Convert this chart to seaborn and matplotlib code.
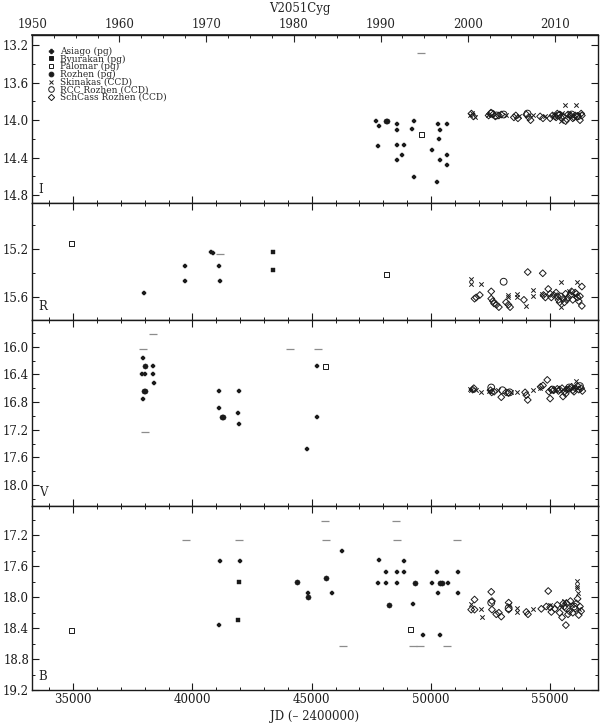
#!/usr/bin/env python3

"""
V2051Cyg light curve: I, R, V, B panels, photographic + CCD data
"""

import numpy as np
import pandas as pd
import matplotlib
matplotlib.use('Agg')
import matplotlib.pyplot as plt
import seaborn as sns
from matplotlib.lines import Line2D
from matplotlib.ticker import MultipleLocator, FixedLocator, FormatStrFormatter

sns.set_theme(style='white')
plt.rcParams['font.family'] = ['DejaVu Serif']
plt.rcParams['font.size'] = 8.5

# ---- data (JD - 2400000, magnitude) ----
# I band
I_ASIAGO = [(47717, 14.01), (47813, 14.06), (47784, 14.28), (48565, 14.04), (48565, 14.11),
            (48565, 14.27), (48565, 14.42), (48870, 14.27), (48787, 14.37), (49289, 14.01),
            (49222, 14.09), (49305, 14.61), (50028, 14.32), (50308, 14.04), (50375, 14.11),
            (50333, 14.20), (50375, 14.42), (50250, 14.66), (50684, 14.04), (50684, 14.37),
            (50655, 14.48)]
I_ROZHEN = [(48106, 14.01), (48176, 14.01)]
I_PALOMAR = [(49610, 14.15)]
I_LIMITS = [(49568, 13.28)]
I_SKINAKAS = [(51650, 13.94), (51720, 13.92), (51850, 13.97), (52380, 13.95), (53150, 13.95),
              (53700, 13.96), (54280, 13.95), (54800, 13.96), (55150, 13.94), (55470, 14.01),
              (55500, 13.92), (55620, 13.84), (55800, 13.93), (56100, 13.84), (56200, 13.93)]
I_RCC = [(52550, 13.93), (52750, 13.95), (53050, 13.94), (54050, 13.93), (55350, 13.95),
         (55900, 13.94), (56150, 13.96)]
I_SCHCASS = [(51700, 13.93), (51780, 13.96), (52420, 13.95), (52520, 13.92), (52600, 13.94),
             (52700, 13.96), (52850, 13.95), (52950, 13.94), (53480, 13.97), (53560, 13.95),
             (53650, 13.98), (54000, 13.94), (54100, 13.97), (54180, 14.00), (54580, 13.96),
             (54700, 13.98), (55000, 13.98), (55100, 13.95), (55250, 13.97), (55300, 13.93),
             (55400, 13.94), (55550, 13.96), (55650, 14.01), (55700, 13.99), (55850, 13.95),
             (55950, 13.98), (56000, 13.97), (56150, 13.96), (56250, 14.00), (56330, 13.95),
             (55200, 13.96), (55450, 13.97), (55750, 13.94), (56050, 13.95), (56300, 13.93)]

# R band
R_ASIAGO = [(37967, 15.56), (39680, 15.34), (39680, 15.46), (40780, 15.22), (40850, 15.23),
            (41100, 15.34), (41160, 15.46)]
R_BYURAKAN = [(43360, 15.22), (43360, 15.37)]
R_PALOMAR = [(34933, 15.15), (48140, 15.41)]
R_LIMITS = [(41150, 15.24)]
R_SKINAKAS = [(51700, 15.45), (51700, 15.49), (52120, 15.49), (53250, 15.58), (53250, 15.60),
              (53620, 15.57), (53620, 15.60), (53980, 15.67), (54270, 15.54), (54270, 15.59),
              (54650, 15.57), (55450, 15.47), (55470, 15.68), (55800, 15.55), (56050, 15.58),
              (56120, 15.47)]
R_RCC = [(53050, 15.47)]
R_SCHCASS = [(51830, 15.61), (51900, 15.60), (52050, 15.58), (52530, 15.55), (52530, 15.61),
             (52600, 15.63), (52650, 15.65), (52750, 15.66), (52850, 15.68), (53150, 15.64),
             (53250, 15.66), (53320, 15.68), (53900, 15.62), (54060, 15.39), (54690, 15.40),
             (54720, 15.58), (54800, 15.60), (54920, 15.53), (55000, 15.57), (55050, 15.60),
             (55150, 15.58), (55250, 15.56), (55300, 15.59), (55350, 15.62), (55400, 15.64),
             (55450, 15.59), (55550, 15.61), (55600, 15.64), (55650, 15.57), (55700, 15.62),
             (55750, 15.60), (55850, 15.58), (55900, 15.55), (55950, 15.62), (56050, 15.56),
             (56100, 15.57), (56150, 15.60), (56200, 15.63), (56250, 15.59), (56330, 15.51),
             (56330, 15.67)]

# V band
V_ASIAGO = [(37925, 16.16), (37900, 16.40), (38000, 16.40), (37920, 16.76), (38340, 16.28),
            (38340, 16.40), (38380, 16.52), (41100, 16.64), (41100, 16.88), (41950, 16.64),
            (41920, 16.96), (41950, 17.12), (45230, 16.28), (45210, 17.01), (44820, 17.48)]
V_ROZHEN = [(38000, 16.28), (37980, 16.64), (38030, 16.64), (41220, 17.01), (41290, 17.01)]
V_PALOMAR = [(45580, 16.29)]
V_LIMITS = [(37940, 16.04), (38360, 15.82), (38000, 17.24), (44100, 16.04), (45260, 16.04)]
V_SKINAKAS = [(51650, 16.61), (51700, 16.63), (51900, 16.62), (52100, 16.65), (52450, 16.64),
              (52800, 16.63), (53350, 16.66), (53620, 16.66), (54270, 16.62), (54580, 16.60),
              (55200, 16.63), (55700, 16.60), (56000, 16.58), (56100, 16.50)]
V_RCC = [(52530, 16.59), (53000, 16.63), (53300, 16.66), (55100, 16.62), (55800, 16.59),
         (56250, 16.57)]
V_SCHCASS = [(51750, 16.62), (51800, 16.60), (52500, 16.63), (52550, 16.66), (52650, 16.65),
             (52950, 16.73), (53150, 16.66), (53250, 16.67), (53950, 16.66), (54000, 16.70),
             (54060, 16.77), (54600, 16.58), (54700, 16.56), (54880, 16.48), (54950, 16.65),
             (55000, 16.75), (55050, 16.62), (55150, 16.63), (55300, 16.61), (55350, 16.64),
             (55400, 16.62), (55500, 16.60), (55540, 16.72), (55600, 16.65), (55650, 16.68),
             (55700, 16.62), (55800, 16.61), (55900, 16.58), (55950, 16.63), (56000, 16.65),
             (56050, 16.60), (56150, 16.57), (56200, 16.62), (56300, 16.60), (56350, 16.64)]

# B band
B_ASIAGO = [(41150, 17.53), (41990, 17.53), (41100, 18.36), (44830, 17.95), (45870, 17.95),
            (46290, 17.40), (47830, 17.52), (47800, 17.81), (48110, 17.67), (48110, 17.81),
            (48570, 17.67), (48570, 17.81), (48870, 17.53), (48870, 17.67), (49250, 18.09),
            (49680, 18.49), (50030, 17.81), (50270, 17.67), (50310, 17.95), (50380, 18.49),
            (50700, 17.81), (51120, 17.67), (51120, 17.95)]
B_BYURAKAN = [(41940, 17.80), (41920, 18.30)]
B_ROZHEN = [(44380, 17.80), (44850, 18.00), (45610, 17.75), (48250, 18.10), (49320, 17.81),
            (50380, 17.81), (50450, 17.81)]
B_PALOMAR = [(34933, 18.43), (49150, 18.42)]
B_LIMITS = [(39750, 17.26), (41950, 17.26), (45580, 17.02), (45600, 17.26), (46310, 18.63),
            (48530, 17.02), (48560, 17.26), (49250, 18.63), (49560, 18.63), (50660, 18.63),
            (51090, 17.26)]
B_SKINAKAS = [(51690, 18.09), (52110, 18.15), (52160, 18.25), (53260, 18.10), (53620, 18.14),
              (53620, 18.19), (54270, 18.15), (55000, 18.10), (55450, 18.12), (55600, 18.05),
              (55900, 18.10), (56120, 17.79), (56120, 17.85), (56120, 17.88), (56150, 17.95),
              (56200, 18.15)]
B_RCC = [(52530, 18.07), (53260, 18.14), (55700, 18.14), (56000, 18.12)]
B_SCHCASS = [(51690, 18.16), (51830, 18.16), (51830, 18.03), (52530, 17.93), (52560, 18.05),
             (52560, 18.16), (52740, 18.22), (52850, 18.20), (52950, 18.25), (53260, 18.07),
             (53260, 18.16), (54000, 18.19), (54070, 18.22), (54630, 18.15), (54840, 18.12),
             (54920, 17.92), (55000, 18.13), (55050, 18.19), (55200, 18.15), (55300, 18.10),
             (55400, 18.20), (55500, 18.26), (55550, 18.08), (55600, 18.12), (55660, 18.36),
             (55700, 18.08), (55750, 18.22), (55800, 18.18), (55850, 18.05), (55950, 18.20),
             (56050, 18.15), (56100, 18.08), (56150, 18.02), (56200, 18.23), (56250, 18.12),
             (56300, 18.18)]

SOURCES = ['Asiago (pg)', 'Byurakan (pg)', 'Palomar (pg)', 'Rozhen (pg)',
           'Skinakas (CCD)', 'RCC Rozhen (CCD)', 'SchCass Rozhen (CCD)']
YEARS = [1950, 1960, 1970, 1980, 1990, 2000, 2010]

PANELS = [
    ('I', (14.885, 13.09), {'Asiago (pg)': I_ASIAGO, 'Palomar (pg)': I_PALOMAR,
                            'Rozhen (pg)': I_ROZHEN, 'Skinakas (CCD)': I_SKINAKAS,
                            'RCC Rozhen (CCD)': I_RCC, 'SchCass Rozhen (CCD)': I_SCHCASS},
     I_LIMITS),
    ('R', (15.79, 14.82), {'Asiago (pg)': R_ASIAGO, 'Byurakan (pg)': R_BYURAKAN,
                           'Palomar (pg)': R_PALOMAR, 'Skinakas (CCD)': R_SKINAKAS,
                           'RCC Rozhen (CCD)': R_RCC, 'SchCass Rozhen (CCD)': R_SCHCASS},
     R_LIMITS),
    ('V', (18.3, 15.62), {'Asiago (pg)': V_ASIAGO, 'Palomar (pg)': V_PALOMAR,
                          'Rozhen (pg)': V_ROZHEN, 'Skinakas (CCD)': V_SKINAKAS,
                          'RCC Rozhen (CCD)': V_RCC, 'SchCass Rozhen (CCD)': V_SCHCASS},
     V_LIMITS),
    ('B', (19.2, 16.82), {'Asiago (pg)': B_ASIAGO, 'Byurakan (pg)': B_BYURAKAN,
                          'Palomar (pg)': B_PALOMAR, 'Rozhen (pg)': B_ROZHEN,
                          'Skinakas (CCD)': B_SKINAKAS, 'RCC Rozhen (CCD)': B_RCC,
                          'SchCass Rozhen (CCD)': B_SCHCASS},
     B_LIMITS),
]

# marker per observatory
MARKERS = {
    'Asiago (pg)': dict(marker='P', s=9, color='k', edgecolor='k', linewidth=0.3),
    'Byurakan (pg)': dict(marker='s', s=7, color='k', edgecolor='k', linewidth=0.3),
    'Palomar (pg)': dict(marker='s', s=13, color='k', facecolor='none', edgecolor='k', linewidth=0.7),
    'Rozhen (pg)': dict(marker='o', s=14, color='k', edgecolor='k', linewidth=0.3),
    'Skinakas (CCD)': dict(marker='x', s=10, color='k', linewidth=0.7),
    'RCC Rozhen (CCD)': dict(marker='o', s=24, color='k', facecolor='none', edgecolor='k', linewidth=0.7),
    'SchCass Rozhen (CCD)': dict(marker='D', s=12, color='k', facecolor='none', edgecolor='k', linewidth=0.7),
}
LEGEND_MS = {'Asiago (pg)': 3.2, 'Byurakan (pg)': 2.6, 'Palomar (pg)': 3.2, 'Rozhen (pg)': 3.4,
             'Skinakas (CCD)': 3.0, 'RCC Rozhen (CCD)': 4.0, 'SchCass Rozhen (CCD)': 3.2}

XLIM = (33265, 56990)


def jd2yr(jd):
    return 1950.0 + (np.asarray(jd, dtype=float) - 33282.5) / 365.25


def yr2jd(yr):
    return 33282.5 + (np.asarray(yr, dtype=float) - 1950.0) * 365.25


def to_frame(points):
    """points dict -> long dataframe"""
    rows = []
    for src, pts in points.items():
        for jd, mag in pts:
            rows.append({'jd': jd, 'mag': mag, 'source': src})
    return pd.DataFrame(rows)


fig = plt.figure(figsize=(6.0, 7.25), dpi=100)
gs = fig.add_gridspec(4, 1, height_ratios=[168, 117, 185, 184], hspace=0,
                      left=0.053, right=0.996, top=0.952, bottom=0.048)
axes = [fig.add_subplot(gs[i]) for i in range(4)]

for i, (ax, (band, ylim, points, limits)) in enumerate(zip(axes, PANELS)):
    df = to_frame(points)
    for src in SOURCES:
        grp = df[df['source'] == src]
        if grp.empty:
            continue
        sns.scatterplot(data=grp, x='jd', y='mag', ax=ax, legend=False, **MARKERS[src])

    lim = pd.DataFrame(limits, columns=['jd', 'mag'])
    sns.scatterplot(data=lim, x='jd', y='mag', ax=ax, marker='_', s=30,
                    color='0.55', linewidth=0.9, legend=False)

    ax.set_xlim(*XLIM)
    ax.set_ylim(*ylim)
    ax.set_xlabel('')
    ax.set_ylabel('')
    ax.xaxis.set_major_locator(MultipleLocator(5000))
    ax.xaxis.set_minor_locator(MultipleLocator(1000))
    ax.yaxis.set_major_locator(MultipleLocator(0.4))
    ax.yaxis.set_minor_locator(MultipleLocator(0.2))
    ax.yaxis.set_major_formatter(FormatStrFormatter('%.1f'))
    ax.tick_params(which='both', direction='in', left=True, right=True,
                   top=(i > 0), bottom=True, labelbottom=(i == 3), labelsize=8.5,
                   colors='k', pad=2)
    ax.tick_params(which='major', length=5, width=0.8)
    ax.tick_params(which='minor', length=2.5, width=0.7)
    for sp in ax.spines.values():
        sp.set_color('k')
        sp.set_linewidth(1.0)
    ax.annotate(band, xy=(0, 0), xycoords='axes fraction', xytext=(5, 5),
                textcoords='offset points', fontsize=8.5, ha='left', va='bottom')

# year axis on top
sec = axes[0].secondary_xaxis('top', functions=(jd2yr, yr2jd))
sec.xaxis.set_major_locator(FixedLocator(YEARS))
sec.xaxis.set_minor_locator(MultipleLocator(2.5))
sec.xaxis.set_major_formatter(FormatStrFormatter('%d'))
sec.tick_params(which='both', direction='in', labelsize=8.5, pad=3)
sec.tick_params(which='major', length=5, width=0.8)
sec.tick_params(which='minor', length=2.5, width=0.7)

# legend (top panel)
handles = []
for src in SOURCES:
    st = MARKERS[src]
    filled = st.get('facecolor', 'k') != 'none'
    handles.append(Line2D([], [], linestyle='none', marker=st['marker'], color='k',
                          markerfacecolor='k' if filled else 'none',
                          markeredgewidth=0.7, markersize=LEGEND_MS[src], label=src))
axes[0].legend(handles=handles, loc='upper left', bbox_to_anchor=(0.018, 0.962),
               frameon=False, fontsize=6.5, handlelength=0.8, handletextpad=0.6,
               labelspacing=-0.15, borderaxespad=0.3, borderpad=0.3)

axes[3].set_xlabel('JD (– 2400000)', fontsize=8.5, labelpad=3)
fig.text(0.5, 0.997, 'V2051Cyg', ha='center', va='top', fontsize=8.5)

plt.savefig('out.png', dpi=100, facecolor='white')
